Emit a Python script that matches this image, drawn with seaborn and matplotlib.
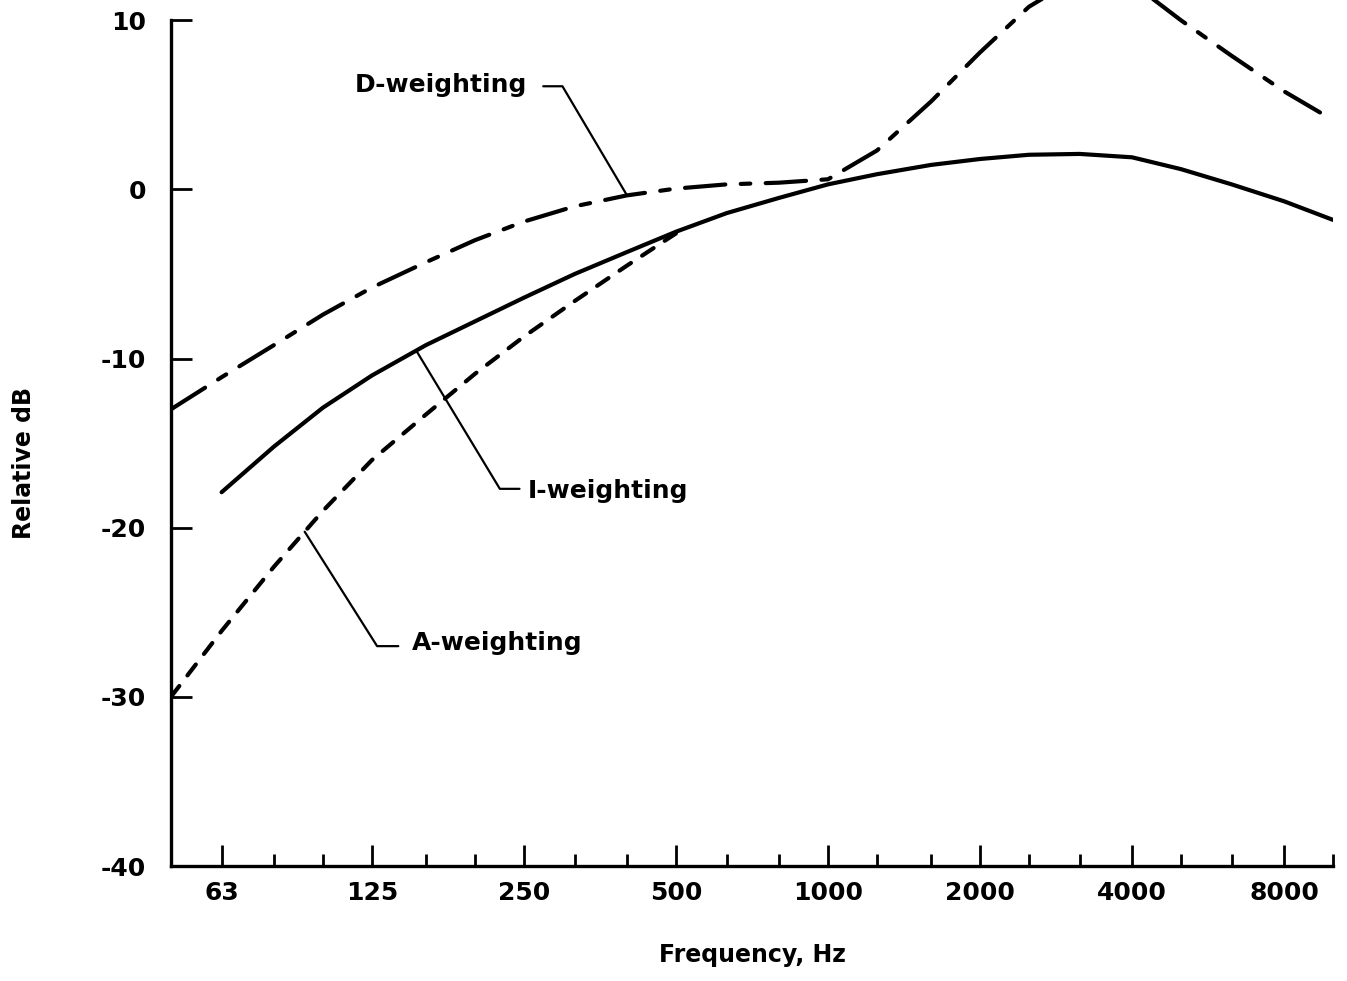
import numpy as np
import pandas as pd
import matplotlib
matplotlib.use("Agg")
import matplotlib.pyplot as plt
from matplotlib.ticker import NullFormatter
import seaborn as sns

# ── Data (relative dB vs frequency) ────────────────────────────
freq_d = [50, 63, 80, 100, 125, 160, 200, 250, 315, 400, 500, 630, 800,
          1000, 1250, 1600, 2000, 2500, 3150, 4000, 5000, 6300, 8000, 10000]
d_weight = [-13.0, -11.1, -9.2, -7.4, -5.8, -4.3, -3.0, -1.9, -1.0, -0.35,
            0.05, 0.3, 0.4, 0.6, 2.3, 5.2, 8.1, 10.8, 12.6, 12.2, 10.0, 7.9,
            5.8, 4.1]

freq_i = [63, 80, 100, 125, 160, 200, 250, 315, 400, 500, 630, 800, 1000,
          1250, 1600, 2000, 2500, 3150, 4000, 5000, 6300, 8000, 10000]
i_weight = [-17.9, -15.2, -12.9, -11.0, -9.2, -7.8, -6.4, -5.0, -3.7, -2.5,
            -1.4, -0.5, 0.3, 0.9, 1.45, 1.8, 2.05, 2.1, 1.9, 1.2, 0.3, -0.7,
            -1.8]

freq_a = [50, 63, 80, 100, 125, 160, 200, 250, 315, 400, 500]
a_weight = [-30.0, -26.1, -22.3, -19.0, -16.0, -13.3, -10.9, -8.7, -6.6,
            -4.5, -2.6]

major_ticks = [63, 125, 250, 500, 1000, 2000, 4000, 8000]
minor_ticks = [80, 100, 160, 200, 315, 400, 630, 800, 1250, 1600, 2500,
               3150, 5000, 6300, 10000]
y_ticks = [10, 0, -10, -20, -30, -40]

# ── Style ──────────────────────────────────────────────────
sns.set_style("white")
INK = "black"
plt.rcParams['font.family'] = ['DejaVu Sans']
plt.rcParams['font.weight'] = 'bold'
plt.rcParams['axes.unicode_minus'] = False
plt.rcParams['text.color'] = INK
plt.rcParams['axes.labelcolor'] = INK
plt.rcParams['axes.labelweight'] = 'bold'
CURVE_LW = 3.0

fig = plt.figure(figsize=(13.47, 9.81), dpi=100)
ax = fig.add_axes([0.1269, 0.1172, 0.8627, 0.8828])
ax.set_xscale('log')

df_d = pd.DataFrame({'f': freq_d, 'db': d_weight})
df_i = pd.DataFrame({'f': freq_i, 'db': i_weight})
df_a = pd.DataFrame({'f': freq_a, 'db': a_weight})

sns.lineplot(data=df_d, x='f', y='db', ax=ax, color=INK, lw=CURVE_LW)
ax.lines[-1].set_dashes((9.7, 3.7, 2.3, 3.7))
ax.lines[-1].set_dash_capstyle('round')

sns.lineplot(data=df_i, x='f', y='db', ax=ax, color=INK, lw=CURVE_LW)
ax.lines[-1].set_solid_capstyle('round')
ax.lines[-1].set_solid_joinstyle('round')

sns.lineplot(data=df_a, x='f', y='db', ax=ax, color=INK, lw=CURVE_LW)
ax.lines[-1].set_dashes((3.3, 3.2))
ax.lines[-1].set_dash_capstyle('round')


def curve_at(f, freqs, vals):
    return np.interp(np.log10(f), np.log10(freqs), vals)


# ── Leader lines + labels ──────────────────────────────────
LEAD_LW = 1.6
LABEL_FS = 18
ax.plot([273, 298, 400], [6.1, 6.1, curve_at(400, freq_d, d_weight)],
        color=INK, lw=LEAD_LW)
ax.text(254, 6.2, 'D-weighting', ha='right', va='center', fontsize=LABEL_FS)

ax.plot([153, 224, 245], [curve_at(153, freq_i, i_weight), -17.7, -17.7],
        color=INK, lw=LEAD_LW)
ax.text(254, -17.8, 'I-weighting', ha='left', va='center', fontsize=LABEL_FS)

ax.plot([92, 128, 141], [curve_at(92, freq_a, a_weight), -27.0, -27.0],
        color=INK, lw=LEAD_LW)
ax.text(150, -26.8, 'A-weighting', ha='left', va='center', fontsize=LABEL_FS)

# ── Axes ───────────────────────────────────────────────────
ax.set_xlim(50, 10000)
ax.set_ylim(-40, 11.2)

ax.set_xticks(major_ticks, labels=[str(t) for t in major_ticks])
ax.set_xticks(minor_ticks, minor=True)
ax.xaxis.set_minor_formatter(NullFormatter())
ax.set_yticks(y_ticks)

ax.tick_params(axis='x', which='major', direction='in', length=15, width=2,
               labelsize=18, pad=11, colors=INK, bottom=True)
ax.tick_params(axis='x', which='minor', direction='in', length=9, width=2,
               colors=INK, bottom=True)
ax.tick_params(axis='y', which='major', direction='in', length=15, width=2,
               labelsize=18, pad=18, colors=INK, left=True)

for side in ['top', 'right']:
    ax.spines[side].set_visible(False)
ax.spines['left'].set_bounds(-40, 10)
for side in ['left', 'bottom']:
    ax.spines[side].set_linewidth(2.4)
    ax.spines[side].set_color(INK)

ax.set_xlabel('Frequency, Hz', fontsize=17, labelpad=27)
ax.set_ylabel('Relative dB', fontsize=17)
ax.yaxis.set_label_coords(-0.116, 0.465)

fig.savefig('out.png', dpi=100, facecolor='white')
